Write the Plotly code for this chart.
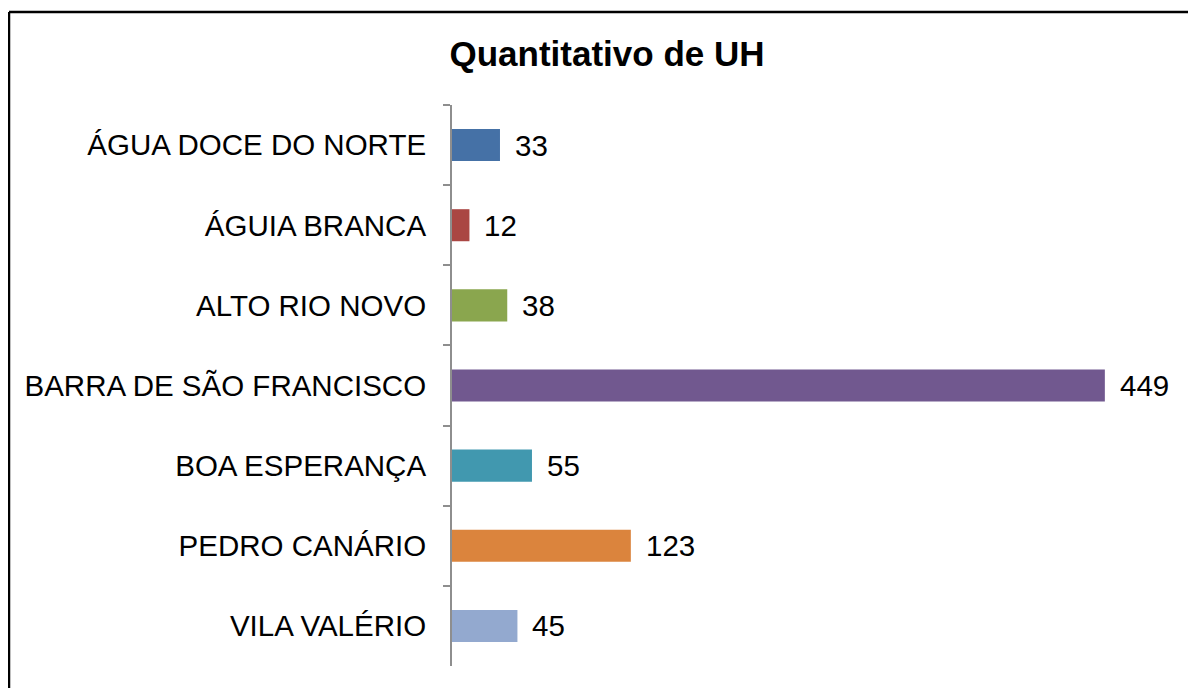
import plotly.graph_objects as go

categories = ["ÁGUA DOCE DO NORTE", "ÁGUIA BRANCA", "ALTO RIO NOVO",
              "BARRA DE SÃO FRANCISCO", "BOA ESPERANÇA", "PEDRO CANÁRIO",
              "VILA VALÉRIO"]
values = [33, 12, 38, 449, 55, 123, 45]
colors = ["#4571A6", "#AA4643", "#8AA64E", "#71588F", "#4198AF", "#DB843D", "#93A9CF"]

# page body has an 8px margin, so the figure is drawn 8px smaller and shifted
OFF = 8
W, H = 1196 - OFF, 688 - OFF
ml, mr, mt, mb = 452 - OFF, 17, 105 - OFF, 22

FONT = "Liberation Sans, Arial"

fig = go.Figure(go.Bar(
    y=categories, x=values, orientation="h",
    marker=dict(color=colors, line=dict(width=0)),
    hoverinfo="skip",
))

for c, v in zip(categories, values):
    fig.add_annotation(x=v, y=c, text=str(v), showarrow=False,
                       xanchor="left", yanchor="middle", xshift=13,
                       font=dict(family=FONT, size=29.5, color="#000000"))

pw = W - ml - mr
ph = H - mt - mb
x_left = (1.0 - ml) / pw
y_top = 1 + (mt - 4.0) / ph
y_bot = -(mb + 5) / ph
fig.add_shape(type="line", xref="paper", yref="paper", x0=x_left, x1=x_left,
              y0=y_bot, y1=y_top, line=dict(color="#000000", width=2.5))
fig.add_shape(type="line", xref="paper", yref="paper", x0=x_left, x1=1 + (mr + 5) / pw,
              y0=y_top, y1=y_top, line=dict(color="#000000", width=2.5))

fig.update_layout(
    width=W, height=H,
    margin=dict(l=ml, r=mr, t=mt, b=mb, pad=0),
    paper_bgcolor="#FFFFFF", plot_bgcolor="#FFFFFF",
    showlegend=False,
    bargap=0.6,
    title=dict(text="<b>Quantitativo de UH</b>", x=(607 - OFF) / W, xanchor="center",
               y=1 - (54 - OFF) / H, yanchor="middle",
               font=dict(family=FONT, size=35, color="#000000")),
    xaxis=dict(range=[0, 500], visible=False, fixedrange=True),
    yaxis=dict(autorange="reversed", showline=True, linecolor="#8E8E8E", linewidth=2,
               ticks="outside", tickson="boundaries", ticklen=7, tickwidth=2,
               tickcolor="#8E8E8E", showgrid=False, zeroline=False,
               ticklabelstandoff=18,
               tickfont=dict(family=FONT, size=29.5, color="#000000")),
)

fig.write_html("out.html")
